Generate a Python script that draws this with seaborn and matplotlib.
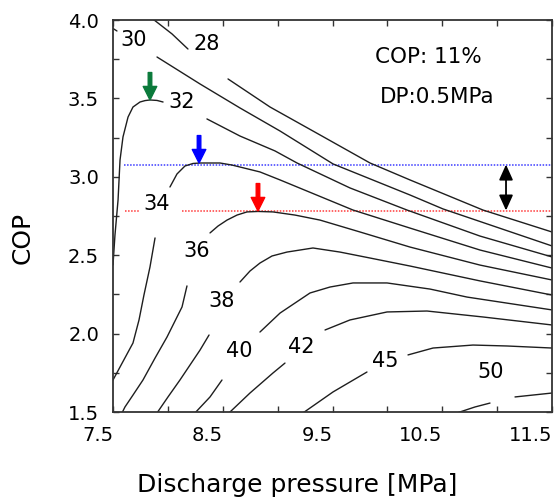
import numpy as np
import pandas as pd
import matplotlib
matplotlib.use("Agg")
import matplotlib.pyplot as plt
import seaborn as sns

# ---- data (discharge pressure [MPa], COP); segments are split where labels sit
P_28 = [[7.864, 8.038, 8.183], [8.548, 8.931, 9.386, 9.842, 10.206, 10.871, 11.500]]
COP_28 = [[4.006, 3.911, 3.815], [3.624, 3.445, 3.267, 3.088, 2.980, 2.788, 2.648]]

P_30 = [[7.500, 7.536], [7.901, 8.293, 8.657, 9.022, 9.505, 10.206, 10.507, 11.500]]
COP_30 = [[3.946, 3.930], [3.764, 3.592, 3.439, 3.292, 3.082, 2.884, 2.795, 2.559]]

P_32 = [[7.500, 7.518, 7.546, 7.564, 7.591, 7.637, 7.682, 7.746, 7.792, 7.837, 7.901, 7.956],
        [8.356, 8.657, 8.976, 9.177, 9.659, 10.179, 10.844, 11.500]]
COP_32 = [[2.438, 2.629, 2.852, 3.107, 3.254, 3.381, 3.445, 3.477, 3.486, 3.490, 3.487, 3.477],
          [3.369, 3.260, 3.165, 3.088, 2.929, 2.788, 2.622, 2.489]]

P_34 = [[7.500, 7.564, 7.682, 7.737, 7.782, 7.837, 7.883],
        [8.019, 8.083, 8.156, 8.229, 8.293, 8.475, 8.584, 8.839, 9.022, 9.687, 10.206, 10.844, 11.500]]
COP_34 = [[1.704, 1.787, 1.940, 2.087, 2.246, 2.425, 2.610],
          [2.935, 3.018, 3.069, 3.085, 3.088, 3.088, 3.075, 3.031, 2.980, 2.788, 2.673, 2.533, 2.418]]

P_36 = [[7.582, 7.609, 7.682, 7.773, 7.883, 7.992, 8.129, 8.174],
        [8.384, 8.457, 8.539, 8.630, 8.721, 8.821, 8.958, 9.158, 9.386, 9.751, 10.206, 10.844, 11.500]]
COP_36 = [[1.494, 1.532, 1.608, 1.704, 1.844, 1.978, 2.170, 2.304],
          [2.642, 2.686, 2.724, 2.756, 2.776, 2.779, 2.776, 2.756, 2.724, 2.648, 2.552, 2.437, 2.342]]

P_38 = [[7.901, 8.001, 8.110, 8.293, 8.375],
        [8.657, 8.748, 8.839, 8.949, 9.085, 9.322, 9.568, 9.842, 10.206, 10.844, 11.500]]
COP_38 = [[1.494, 1.596, 1.704, 1.895, 1.991],
          [2.329, 2.399, 2.450, 2.495, 2.520, 2.546, 2.520, 2.482, 2.431, 2.336, 2.246]]

P_40 = [[8.247, 8.384, 8.493],
        [8.839, 9.022, 9.295, 9.477, 9.687, 9.997, 10.389, 10.726, 11.500]]
COP_40 = [[1.494, 1.596, 1.704],
          [2.010, 2.131, 2.259, 2.297, 2.323, 2.323, 2.284, 2.233, 2.151]]

P_42 = [[8.557, 8.748, 8.958, 9.067], [9.432, 9.659, 9.997, 10.361, 10.871, 11.500]]
COP_42 = [[1.494, 1.621, 1.749, 1.812], [2.023, 2.087, 2.138, 2.144, 2.106, 2.055]]

P_45 = [[9.231, 9.505, 9.814], [10.188, 10.416, 10.780, 11.090, 11.500]]
COP_45 = [[1.494, 1.628, 1.755], [1.864, 1.908, 1.927, 1.921, 1.908]]

P_50 = [[10.634, 10.798, 10.935], [11.163, 11.500]]
COP_50 = [[1.494, 1.532, 1.557], [1.596, 1.621]]

TEMPS = ["28", "30", "32", "34", "36", "38", "40", "42", "45", "50"]
CURVE_P = [P_28, P_30, P_32, P_34, P_36, P_38, P_40, P_42, P_45, P_50]
CURVE_COP = [COP_28, COP_30, COP_32, COP_34, COP_36, COP_38, COP_40, COP_42, COP_45, COP_50]

LABEL_P = [8.356, 7.691, 8.129, 7.901, 8.265, 8.493, 8.648, 9.213, 9.978, 10.944]
LABEL_COP = [3.847, 3.872, 3.477, 2.827, 2.527, 2.208, 1.889, 1.915, 1.825, 1.755]

# optimum markers (pressure, COP at peak)
OPT_P = [7.837, 8.284, 8.821]
OPT_COP = [3.490, 3.088, 2.782]
OPT_COLORS = ["#0b7a3b", "#0000ff", "#ff0000"]

BLUE_COP = 3.078
BLUE_P = [[7.60, 11.50]]
RED_COP = 2.785
RED_P = [[7.609, 7.746], [8.129, 11.50]]
DIFF_P = 11.081

XTICKS = [7.5, 8.5, 9.5, 10.5, 11.5]
YTICKS = [1.5, 2.0, 2.5, 3.0, 3.5, 4.0]

# ---- build long table
rows = []
for t, ps, cs in zip(TEMPS, CURVE_P, CURVE_COP):
    for k, (pp, cc) in enumerate(zip(ps, cs)):
        for p, c in zip(pp, cc):
            rows.append({"T": t, "seg": f"{t}_{k}", "P": p, "COP": c})
df = pd.DataFrame(rows)

ref_rows = []
for k, pp in enumerate(BLUE_P):
    for p in pp:
        ref_rows.append({"seg": f"b{k}", "P": p, "COP": BLUE_COP, "kind": "blue"})
for k, pp in enumerate(RED_P):
    for p in pp:
        ref_rows.append({"seg": f"r{k}", "P": p, "COP": RED_COP, "kind": "red"})
ref = pd.DataFrame(ref_rows)

sns.set_style("ticks")
plt.rcParams["font.family"] = ["DejaVu Sans"]
plt.rcParams["text.color"] = "black"
plt.rcParams["axes.labelcolor"] = "black"
plt.rcParams["xtick.labelcolor"] = "black"
plt.rcParams["ytick.labelcolor"] = "black"

fig = plt.figure(figsize=(5.56, 5.04), dpi=100)
ax = fig.add_axes([113 / 556, 1 - 412 / 504, 439 / 556, 392 / 504])

# reference lines
sns.lineplot(data=ref[ref.kind == "blue"], x="P", y="COP", units="seg", estimator=None,
             sort=False, color="#3a3aff", lw=1.1, linestyle=(0, (1, 1)), ax=ax, legend=False)
sns.lineplot(data=ref[ref.kind == "red"], x="P", y="COP", units="seg", estimator=None,
             sort=False, color="#ff3a3a", lw=1.1, linestyle=(0, (1, 1)), ax=ax, legend=False)

# COP curves
sns.lineplot(data=df, x="P", y="COP", units="seg", estimator=None, sort=False,
             color="#1e1e1e", lw=1.0, ax=ax, legend=False)

for t, p, c in zip(TEMPS, LABEL_P, LABEL_COP):
    ax.text(p, c, t, fontsize=15, ha="center", va="center", color="black")

# arrows pointing at the optimum
for p, c, col in zip(OPT_P, OPT_COP, OPT_COLORS):
    ax.annotate("", xy=(p, c), xytext=(p, c + 0.175),
                arrowprops=dict(arrowstyle="simple,head_length=0.65,head_width=0.65,tail_width=0.17",
                                color=col, shrinkA=0, shrinkB=0, mutation_scale=15))

ax.annotate("", xy=(DIFF_P, RED_COP), xytext=(DIFF_P, BLUE_COP),
            arrowprops=dict(arrowstyle="<|-|>,head_length=0.62,head_width=0.28",
                            color="black", lw=1.3, shrinkA=0, shrinkB=0, mutation_scale=15))

ax.text(9.887, 3.764, "COP: 11%", fontsize=15.5, ha="left", va="center")
ax.text(9.933, 3.509, "DP:0.5MPa", fontsize=15.5, ha="left", va="center")

ax.set_xlim(7.5, 11.5)
ax.set_ylim(1.5, 4.0)
ax.set_xticks(XTICKS)
ax.set_xticks([8.0, 9.0, 10.0, 11.0], minor=True)
ax.set_yticks(YTICKS)
ax.set_yticks([1.75, 2.25, 2.75, 3.25, 3.75], minor=True)
ax.set_xticklabels([f"{v:.1f}" for v in XTICKS])
ax.set_yticklabels([f"{v:.1f}" for v in YTICKS])
ax.tick_params(which="both", direction="in", top=True, right=True, length=4,
               width=1.0, color="#333333")
ax.tick_params(which="major", labelsize=14, pad=10, labelcolor="black")
for lbl in ax.get_xticklabels():
    lbl.set_ha("right")
for s in ax.spines.values():
    s.set_linewidth(1.3)
    s.set_color("#333333")

ax.set_xlabel("Discharge pressure [MPa]", fontsize=18, color="black")
ax.set_ylabel("COP", fontsize=18, color="black")
ax.xaxis.label.set_va("center")
ax.yaxis.label.set_va("center")
ax.xaxis.set_label_coords(0.419, -0.186)
ax.yaxis.set_label_coords(-0.205, 0.445)

fig.savefig("out.png", dpi=100)
